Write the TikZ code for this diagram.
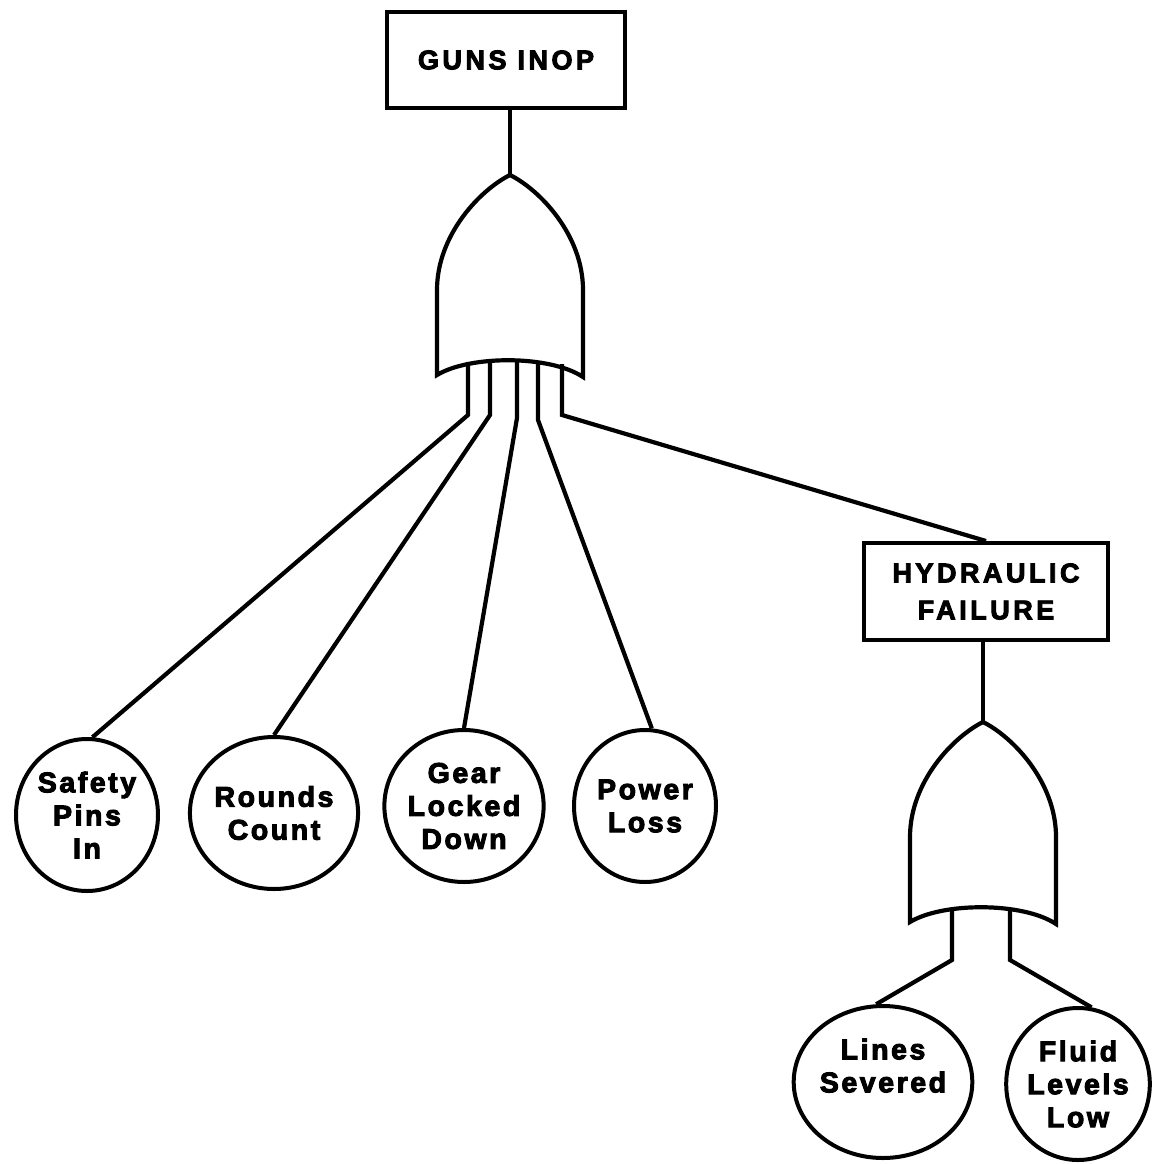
\documentclass[tikz,border=0pt]{standalone}
\usepackage{fontspec}
\setmainfont{Liberation Sans}
\newfontfamily\boxfnt{Liberation Sans}[LetterSpace=13, FakeBold=3.5]
\newfontfamily\lblfnt{Liberation Sans}[LetterSpace=9, FakeBold=3.5]
\usetikzlibrary{shapes.geometric}
\tikzset{
  evbox/.style={draw, line width=4pt, minimum width=238pt, minimum height=96pt,
    inner sep=0pt, align=center, font=\boxfnt\bfseries\fontsize{27}{37}\selectfont},
  basicev/.style={ellipse, draw, line width=4pt, minimum width=142pt, minimum height=152pt,
    inner sep=0pt, align=center, font=\lblfnt\bfseries\fontsize{28.5}{33}\selectfont},
  wire/.style={line width=4.2pt, line join=miter},
  orgate/.pic={
    \draw[line width=4.2pt, line join=miter]
      (0,0) .. controls (-30,15) and (-73,60) .. (-73,115) -- (-73,200)
      .. controls (-40,180) and (40,180) .. (73,202) -- (73,115)
      .. controls (73,60) and (30,15) .. cycle;
  }
}
\begin{document}
\begin{tikzpicture}[x=1pt,y=-1pt]
\useasboundingbox (0,0) rectangle (1151,1164);
\fill[white] (0,0) rectangle (1151,1164);

% top event
\node[evbox] (guns) at (506,60) {GUNS INOP};
\coordinate (g1) at (510,175);
\pic at (g1) {orgate};
\draw[wire] (g1 |- guns.south) -- (g1);

% basic events
\node[basicev] (c1) at (87,815) {Safety\\Pins\\In};
\node[basicev] (c2) at (274,813) {Rounds\\Count};
\node[basicev] (c3) at (464,806) {Gear\\Locked\\Down};
\node[basicev] (c4) at (645,806) {Power\\Loss};

% intermediate event
\node[evbox, minimum width=244pt, minimum height=97pt] (hyd) at (986,591.5) {HYDRAULIC\\FAILURE};

% legs of gate 1
\coordinate (l1a) at (468,362); \coordinate (l1b) at (468,415);
\coordinate (l2a) at (490,361); \coordinate (l2b) at (490,415);
\coordinate (l3a) at (517,360); \coordinate (l3b) at (517,418);
\coordinate (l4a) at (538,361); \coordinate (l4b) at (538,420);
\coordinate (l5a) at (562,364); \coordinate (l5b) at (562,415);
\draw[wire] (l1a) -- (l1b) -- (c1.86);
\draw[wire] (l2a) -- (l2b) -- (c2.north);
\draw[wire] (l3a) -- (l3b) -- (c3.north);
\draw[wire] (l4a) -- (l4b) -- (c4.85);
\draw[wire] (l5a) -- (l5b) -- (hyd.north);

% second gate
\coordinate (g2) at (983,722);
\pic at (g2) {orgate};
\draw[wire] (g2 |- hyd.south) -- (g2);

\node[basicev] (c5) at (883,1082) {Lines\\Severed\\\mbox{}};
\node[basicev] (c6) at (1078,1084) {Fluid\\Levels\\Low};

\coordinate (m1a) at (952,909); \coordinate (m1b) at (952,960);
\coordinate (m2a) at (1010,909); \coordinate (m2b) at (1010,960);
\draw[wire] (m1a) -- (m1b) -- (c5.95);
\draw[wire] (m2a) -- (m2b) -- (c6.80);
\end{tikzpicture}
\end{document}
